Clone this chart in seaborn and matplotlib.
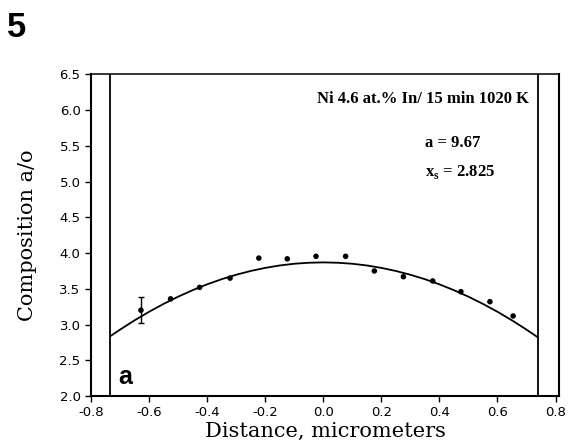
#! /usr/bin/env python3
# imports
from matplotlib import rcParams
import matplotlib.pyplot as plt
import numpy as np
import pandas as pd
import seaborn as sns

# data
dist = [-0.628, -0.526, -0.426, -0.321, -0.222, -0.124, -0.025, 0.077,
        0.176, 0.276, 0.377, 0.474, 0.574, 0.654]
comp = [3.20, 3.36, 3.52, 3.65, 3.93, 3.92, 3.955, 3.955,
        3.75, 3.67, 3.61, 3.46, 3.32, 3.12]
err_x = [-0.628]
err_y = [3.20]
err_size = [0.18]

# fitted profile
fit_x = [-0.735, -0.70, -0.65, -0.60, -0.55, -0.50, -0.45, -0.40, -0.35, -0.30,
         -0.25, -0.20, -0.15, -0.10, -0.05, 0.0, 0.05, 0.10, 0.15, 0.20, 0.25,
         0.30, 0.35, 0.40, 0.45, 0.50, 0.55, 0.60, 0.65, 0.70, 0.74]
fit_y = [2.833, 2.929, 3.059, 3.179, 3.289, 3.390, 3.481, 3.563, 3.635, 3.697,
         3.750, 3.793, 3.827, 3.851, 3.865, 3.870, 3.865, 3.851, 3.827, 3.793,
         3.750, 3.697, 3.635, 3.563, 3.481, 3.390, 3.289, 3.179, 3.059, 2.929,
         2.819]

# interface positions
walls = [-0.735, 0.74]

x_ticks = [-0.8, -0.6, -0.4, -0.2, 0.0, 0.2, 0.4, 0.6, 0.8]
y_ticks = [2.0, 2.5, 3.0, 3.5, 4.0, 4.5, 5.0, 5.5, 6.0, 6.5]

# settings
sns.set_style("ticks")
rcParams['font.family'] = 'DejaVu Sans'
rcParams['text.color'] = 'black'
rcParams['axes.labelcolor'] = 'black'
rcParams['mathtext.fontset'] = 'custom'
rcParams['mathtext.bf'] = 'Liberation Serif:bold'
rcParams['mathtext.rm'] = 'Liberation Serif:bold'
rcParams['axes.unicode_minus'] = True

pts = pd.DataFrame({'x': dist, 'y': comp})
fit = pd.DataFrame({'x': fit_x, 'y': fit_y})

# create plot
fig = plt.figure(figsize=(5.71, 4.46), dpi=100)
ax = fig.add_axes([0.1594, 0.1121, 0.8196, 0.7209])

sns.lineplot(x='x', y='y', data=fit, color='black', lw=1.3, sort=False, ax=ax)
sns.scatterplot(x='x', y='y', data=pts, color='black', s=16, edgecolor='none', ax=ax)
ax.errorbar(err_x, err_y, yerr=err_size, fmt='none', ecolor='black', elinewidth=1.0, capsize=2)
for w in walls:
    ax.axvline(w, color='black', lw=1.3)

ax.set_xlim(-0.8, 0.812)
ax.set_ylim(2.0, 6.5)
ax.set_xticks(x_ticks)
ax.set_yticks(y_ticks)
ax.set_xticklabels(['%.1f' % t for t in x_ticks])
ax.set_yticklabels(['%.1f' % t for t in y_ticks])
ax.tick_params(direction='out', length=4, width=1, labelsize=9.5, colors='black')
for s in ax.spines.values():
    s.set_visible(True)
    s.set_linewidth(1.5)
    s.set_color('black')
ax.spines['top'].set_linewidth(1.1)

ax.set_xlabel('Distance, micrometers', fontsize=15, family='DejaVu Serif', labelpad=2)
ax.set_ylabel('Composition a/o', fontsize=15, family='DejaVu Serif', labelpad=16)

ax.text(0.709, 6.153, 'Ni 4.6 at.% In/ 15 min 1020 K', ha='right', va='center',
        fontsize=12, family='Liberation Serif', weight='bold')
ax.text(0.35, 5.537, 'a = 9.67', ha='left', va='center',
        fontsize=12, family='Liberation Serif', weight='bold')
ax.text(0.35, 5.14, r'x$_\mathbf{s}$ = 2.825', ha='left', va='center',
        fontsize=12, family='Liberation Serif', weight='bold')
ax.text(-0.707, 2.168, 'a', ha='left', va='baseline',
        fontsize=18, family='Liberation Sans', weight='bold')
fig.text(7 / 571, 1 - 37 / 446, '5', ha='left', va='baseline',
         fontsize=25, family='Liberation Sans', weight='bold')

fig.savefig('out.png', dpi=100)
plt.close()
